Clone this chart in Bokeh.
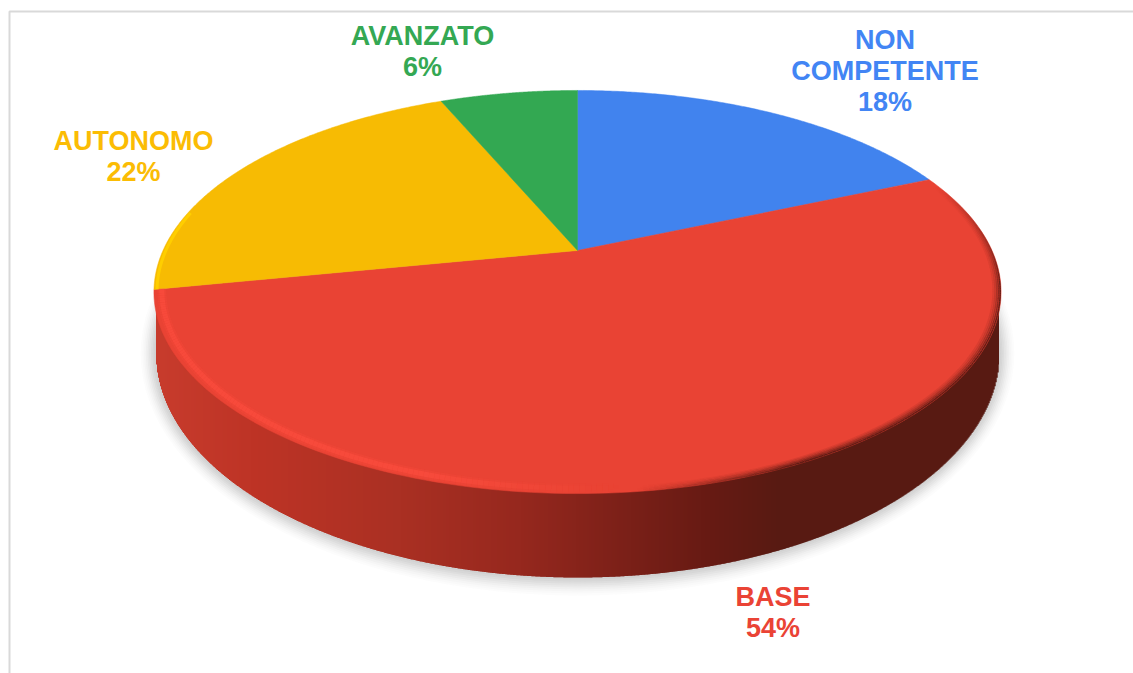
import numpy as np
from bokeh.plotting import figure
from bokeh.embed import file_html
from bokeh.resources import INLINE
from bokeh.models import Range1d
from bokeh.core.properties import value

# Data
categories = ["NON COMPETENTE", "BASE", "AUTONOMO", "AVANZATO"]
slice_shares = [18.5, 53.4, 21.7, 6.4]      # as drawn in the pie
percent_labels = ["18%", "54%", "22%", "6%"]  # as printed
colors = ["#4183ee", "#e94334", "#f7bb03", "#33a852"]
label_lines = [["NON", "COMPETENTE", "18%"], ["BASE", "54%"], ["AUTONOMO", "22%"], ["AVANZATO", "6%"]]
label_x = [884.5, 772.5, 133, 422]
label_y = [39.5, 596.5, 140.5, 35.5]
text_colors = ["#4285f4", "#ea4335", "#fbbc04", "#34a853"]

W, H = 1133, 673
p = figure(width=W, height=H, output_backend="svg", toolbar_location=None,
           x_range=Range1d(0, W), y_range=Range1d(H, 0),
           min_border=0, outline_line_color=None)
p.axis.visible = False
p.grid.visible = False
p.background_fill_color = "white"
p.border_fill_color = "white"

# chart frame
p.line([1133, 9, 9], [11, 11, 673], line_color="#d9d9d9", line_width=2)

# perspective projection of the unit disk
CX, CY, A, B, K = 577, 250, 414.5, 193, 0.206
def proj(theta, r=1.0):
    u, v = r * np.sin(theta), r * np.cos(theta)
    d = 1 + K * v
    return CX + A * u / d, CY - B * v / d

TOP_CY = 291.5; TOP_B = 201.5; TOP_A = 423
BOT_CX, BOT_CY, BOT_A, BOT_B = 577, 353, 421.5, 224

def ell_low(x, cx, cy, a, b):
    t = np.clip(1 - ((x - cx) / a) ** 2, 0, None)
    return cy + b * np.sqrt(t)

# soft shadow under the pie
for grow, alpha in zip([18, 16, 14, 12, 10, 8, 6, 4, 2], [.02, .025, .03, .035, .04, .05, .06, .06, .06]):
    p.ellipse(x=BOT_CX, y=BOT_CY, width=2 * (BOT_A + grow * .85), height=2 * (BOT_B + grow),
              fill_color="#707070", fill_alpha=alpha, line_color=None)

# side wall, horizontal gradient
stops_x = [155, 250, 400, 520, 630, 700, 780, 1000]
stops_c = [(200, 60, 45), (190, 52, 38), (170, 48, 35), (150, 40, 30), (122, 32, 24), (105, 27, 20), (88, 26, 18), (88, 26, 18)]
xs = np.arange(BOT_CX - BOT_A, BOT_CX + BOT_A, 1.0)
mid = xs + .5
tops = ell_low(mid, CX, TOP_CY, TOP_A, TOP_B) - 6
bots = np.maximum(ell_low(mid, BOT_CX, BOT_CY, BOT_A, BOT_B), tops)
cols = []
for m in mid:
    c = [int(np.interp(m, stops_x, [s[i] for s in stops_c])) for i in range(3)]
    cols.append("#%02x%02x%02x" % tuple(c))
p.quad(left=xs, right=np.minimum(xs + 1.7, BOT_CX + BOT_A), top=tops, bottom=bots, fill_color=cols, line_color=None)

# slices
cum = np.cumsum([0] + slice_shares) / sum(slice_shares) * 2 * np.pi
for i, c in enumerate(colors):
    th = np.linspace(cum[i], cum[i + 1], 160)
    x, y = proj(th)
    p.patch(np.r_[CX, x], np.r_[CY, y], fill_color=c, line_color=c, line_width=0.5)

# bevel along the front rim: bright on the left, dark on the right
red_th = np.linspace(cum[1], cum[2], 300)
def rim(r, w, bright, dark):
    xr, yr = proj(red_th, r)
    sx = [xr[j:j + 2] for j in range(len(xr) - 1)]
    sy = [yr[j:j + 2] for j in range(len(xr) - 1)]
    ca, aa = [], []
    for j in range(len(xr) - 1):
        mx, my = xr[j], yr[j]
        fb = np.clip((620 - mx) / 200, 0, 1)
        fd = np.clip((mx - 640) / 160, 0, 1) * np.clip((my - 185) / 100, 0, 1)
        if fb > 0:
            ca.append("#ff4f40"); aa.append(bright * fb)
        else:
            ca.append("#4e1610"); aa.append(dark * fd)
    p.multi_line(sx, sy, line_color=ca, line_width=w, line_alpha=aa)

rim(0.982, 9, .22, 0)
rim(0.982, 5, .55, 0)
rim(0.998, 1.5, 0, .85)
rim(0.994, 1.5, 0, .6)
rim(0.990, 1.5, 0, .4)
rim(0.986, 1.5, 0, .22)
rim(0.982, 1.5, 0, .1)

# yellow rim
yth = np.linspace(cum[2], cum[2] + .4, 40)
xr, yr = proj(yth, 0.993)
p.line(xr, yr, line_color="#ffd000", line_width=3, line_alpha=.9)

# labels
for lines, lx, ly, c in zip(label_lines, label_x, label_y, text_colors):
    for k, t in enumerate(lines):
        p.text(x=[lx], y=[ly + k * 31], text=[t], text_color=c, text_align="center",
               text_baseline="middle", text_font=value("Liberation Sans"),
               text_font_style="bold", text_font_size="27px")

open("out.html", "w").write(file_html(p, INLINE))
